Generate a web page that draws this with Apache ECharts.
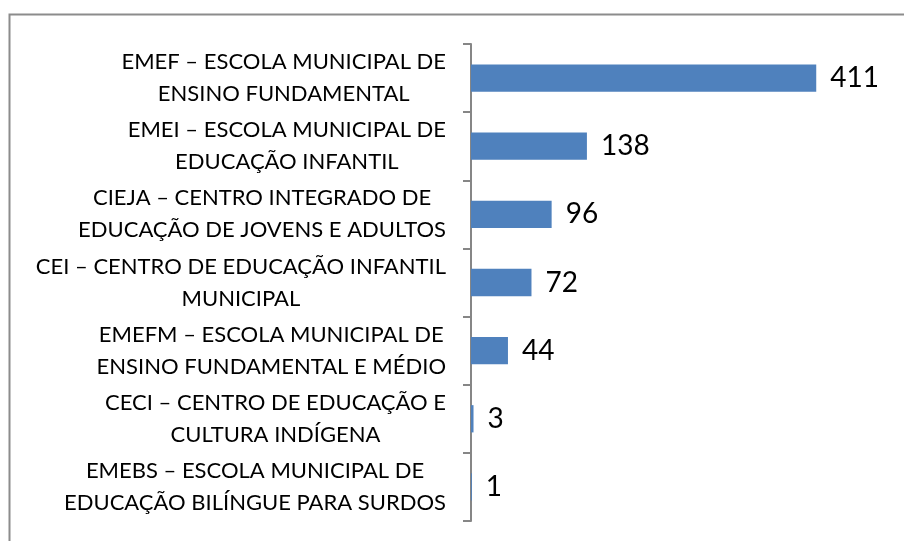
<!DOCTYPE html>
<html>
<head>
<meta charset="utf-8">
<script src="https://cdn.jsdelivr.net/npm/echarts@6/dist/echarts.min.js"></script>
<style>
  html, body { margin: 0; padding: 0; background: #fff; }
  #chart { width: 904px; height: 541px; }
</style>
</head>
<body>
<div id="chart"></div>
<script>
// Unidades da rede municipal por tipo de escola
const categories = [
  'EMEF – ESCOLA MUNICIPAL DE\nENSINO FUNDAMENTAL',
  'EMEI – ESCOLA MUNICIPAL DE\nEDUCAÇÃO INFANTIL',
  'CIEJA – CENTRO INTEGRADO DE\nEDUCAÇÃO DE JOVENS E ADULTOS',
  'CEI – CENTRO DE EDUCAÇÃO INFANTIL\nMUNICIPAL',
  'EMEFM – ESCOLA MUNICIPAL DE\nENSINO FUNDAMENTAL E MÉDIO',
  'CECI – CENTRO DE EDUCAÇÃO E\nCULTURA INDÍGENA',
  'EMEBS – ESCOLA MUNICIPAL DE\nEDUCAÇÃO BILÍNGUE PARA SURDOS'
];
const unidades = [411, 138, 96, 72, 44, 3, 1];

const chart = echarts.init(document.getElementById('chart'));
const font = 'Lato, "Open Sans", sans-serif';

chart.setOption({
  animation: false,
  backgroundColor: '#fff',
  graphic: [{
    type: 'rect',
    shape: { x: 9.5, y: 14.5, width: 1000, height: 1000 },
    style: { fill: 'none', stroke: '#8c8c8c', lineWidth: 2 },
    silent: true
  }],
  grid: { left: 471, right: 55, top: 44, bottom: 20, containLabel: false },
  xAxis: {
    type: 'value',
    min: 0,
    max: 450,
    show: false
  },
  yAxis: {
    type: 'category',
    inverse: true,
    data: categories,
    axisLine: { show: true, lineStyle: { color: '#868686', width: 2 } },
    axisTick: { show: true, length: 8, lineStyle: { color: '#868686', width: 2 } },
    axisLabel: {
      margin: 25,
      align: 'right',
      // block sits right of the axis gap; each line is centred within the block
      formatter: v => v.split('\n').map(l => '{c|' + l + '}').join('\n'),
      rich: {
        c: {
          align: 'center',
          color: '#000',
          fontFamily: font,
          fontSize: 22,
          lineHeight: 32
        }
      }
    },
    splitLine: { show: false }
  },
  series: [{
    type: 'bar',
    data: unidades,
    barWidth: '40%',
    itemStyle: { color: '#4f81bd' },
    label: {
      show: true,
      position: 'right',
      distance: 14,
      color: '#000',
      fontFamily: font,
      fontSize: 28
    }
  }]
});
</script>
</body>
</html>
